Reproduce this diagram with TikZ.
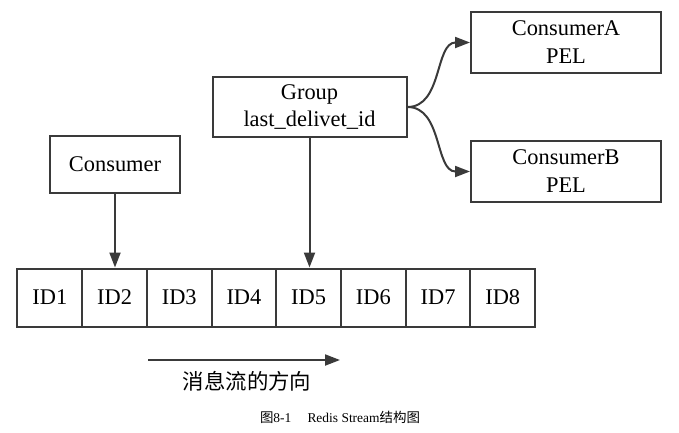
\documentclass[tikz,border=0pt]{standalone}
\usepackage{fontspec}
\setmainfont{Liberation Serif}
\newfontfamily\cjk{Noto Sans CJK SC}
\usetikzlibrary{arrows.meta}

\definecolor{linegray}{HTML}{3A3A3A}

\tikzset{
    box/.style={draw=linegray, line width=2bp, align=center, inner sep=0pt,
                font=\fontsize{22.5}{28}\selectfont, text=black},
    idcell/.style={box, minimum width=64.7bp, minimum height=58bp},
    flow/.style={draw=linegray, line width=2bp, -{Triangle[length=15bp,width=11bp]}}
}

\begin{document}
\begin{tikzpicture}[x=1bp, y=-1bp]

\useasboundingbox (0,0) rectangle (679,432);

% Stream cells
\foreach \i in {1,...,8} {
    \node[idcell] (id\i) at ({17.5+64.7*(\i-0.5)},297.5) {ID\i};
}

% Consumer and group
\node[box, minimum width=130bp, minimum height=57bp] (consumer) at (115,164.5) {Consumer};
\node[box, minimum width=194bp, minimum height=60bp] (group) at (309.5,107) {Group\\last\_delivet\_id};

% Consumers of the group
\node[box, minimum width=190bp, minimum height=61bp] (consA) at (566,42.5) {ConsumerA\\PEL};
\node[box, minimum width=190bp, minimum height=61bp] (consB) at (566,171.5) {ConsumerB\\PEL};

% Pointers
\draw[flow] (consumer.south) -- (consumer.south |- id2.north);
\draw[flow] (group.south) -- (group.south |- id5.north);
\draw[flow] (group.east) to[out=0, in=180] (consA.west);
\draw[flow] (group.east) to[out=0, in=180] (consB.west);

% Direction of messages
\coordinate (dirstart) at (148,360);
\coordinate (dirend) at (340,360);
\draw[flow] (dirstart) -- (dirend);
\node[font=\cjk\fontsize{21.5}{25}\selectfont] (dirlabel) at (247,381) {消息流的方向};

% Caption
\node[font=\fontsize{13.5}{16}\selectfont] (caption) at (340,417) {{\cjk 图}8-1\hspace{1.2em}Redis Stream{\cjk 结构图}};

\end{tikzpicture}
\end{document}
